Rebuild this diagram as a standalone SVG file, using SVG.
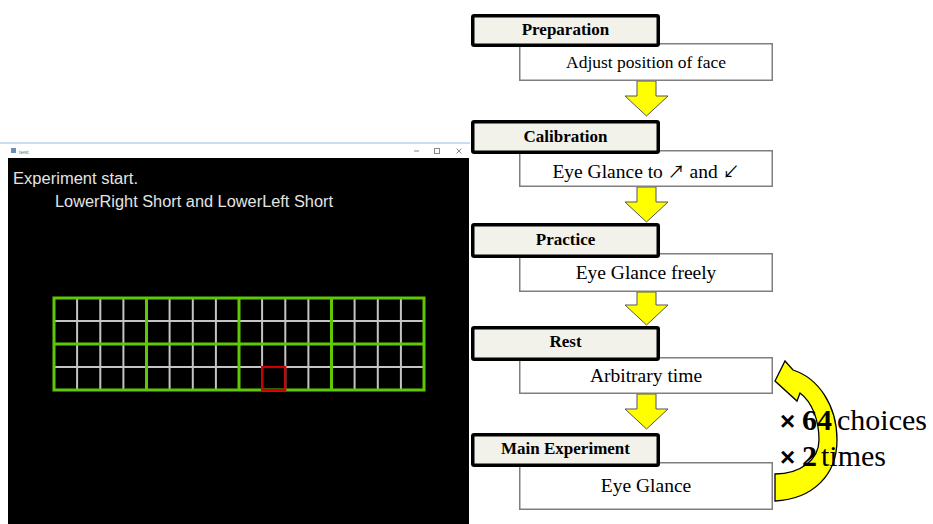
<svg xmlns="http://www.w3.org/2000/svg" width="933" height="524" viewBox="0 0 933 524">
<style>
.hdr rect{fill:#f3f2ea;stroke:#000;stroke-width:3.5}
.hdr text{font-family:"Liberation Serif",serif;font-weight:bold;font-size:17px;text-anchor:middle;fill:#000}
.body rect{fill:#fff;stroke:#7f7f7f;stroke-width:1.5}
.body text{font-family:"Liberation Serif",serif;font-size:19.5px;text-anchor:middle;fill:#000}
.arr{fill:#ffff00;stroke:#555;stroke-width:1}
.gl{stroke:#c4c4c4;stroke-width:2}
.gg{stroke:#5fc800;stroke-width:3;fill:none}
.scr{font-family:"Liberation Sans",sans-serif;fill:#e4e4e4;font-size:16px}
.big{font-family:"Liberation Serif",serif;font-size:30px;fill:#000}
.ar{font-family:"Noto Sans CJK JP","DejaVu Sans",sans-serif;font-size:17px}
</style>
<rect width="933" height="524" fill="#fff"/>
<g id="screenshot">
<line x1="0" y1="143" x2="470" y2="143" stroke="#b9d1ea" stroke-width="1.5"/>
<rect x="8" y="144" width="461" height="380" fill="#000"/>
<rect x="8" y="144" width="461" height="14" fill="#fff"/>
<rect x="11" y="148" width="5" height="5" fill="#6b8fb5"/>
<text x="19" y="153.5" font-family="Liberation Sans,sans-serif" font-size="6" fill="#777">test</text>
<line x1="414" y1="151" x2="419" y2="151" stroke="#888" stroke-width="1"/>
<rect x="434.5" y="148.5" width="5" height="5" fill="none" stroke="#888" stroke-width="1"/>
<path d="M456.5 148.5l5 5M461.5 148.5l-5 5" stroke="#888" stroke-width="1"/>
<text class="scr" x="13" y="184" textLength="125" lengthAdjust="spacingAndGlyphs">Experiment start.</text>
<text class="scr" x="55" y="207" textLength="278" lengthAdjust="spacingAndGlyphs">LowerRight Short and LowerLeft Short</text>
<g id="grid">
<path class="gl" d="M77.1 298V390M100.3 298V390M123.4 298V390M169.6 298V390M192.8 298V390M215.9 298V390M262.1 298V390M285.3 298V390M308.4 298V390M354.6 298V390M377.8 298V390M400.9 298V390M54 321H424M54 367H424"/>
<path class="gg" d="M54 298H424V390H54ZM146.5 298V390M239 298V390M331.5 298V390M54 344H424"/>
<rect x="262.1" y="367" width="23.1" height="23" fill="none" stroke="#cc0000" stroke-width="2.2"/>
</g>
</g>
<g id="connectors">
<polygon class="arr" points="637,81 656,81 656,96 668,96 646.5,116 625,96 637,96"/>
<polygon class="arr" points="637,187 656,187 656,202 668,202 646.5,222 625,202 637,202"/>
<polygon class="arr" points="637,292 656,292 656,305 668,305 646.5,325 625,305 637,305"/>
<polygon class="arr" points="637,394 656,394 656,409 668,409 646.5,429 625,409 637,409"/>
<path id="loop" fill="#ffff00" stroke="#000" stroke-width="1.3" d="M775 501C813 499 837 475 837 440C837 405 818 378 793 370L785 361L775 381L797 401L800 393C812 402 819 420 819 440C819 460 800 474 775 474Z"/>
</g>
<g id="prep-body" class="body"><rect x="519.75" y="43.75" width="252.5" height="36.5"/><text x="646" y="68" style="font-size:17.5px">Adjust position of face</text></g>
<g id="prep" class="hdr"><rect x="472.75" y="15.75" width="185.5" height="29.5" rx="1.5"/><text x="565.5" y="35">Preparation</text></g>
<g id="calib-body" class="body"><rect x="519.75" y="150.75" width="252.5" height="35.5"/><text x="646" y="178">Eye Glance to <tspan class="ar">↗</tspan> and <tspan class="ar">↙</tspan></text></g>
<g id="calib" class="hdr"><rect x="472.75" y="121.75" width="185.5" height="30.5" rx="1.5"/><text x="565.5" y="142">Calibration</text></g>
<g id="practice-body" class="body"><rect x="519.75" y="253.75" width="252.5" height="37.5"/><text x="646" y="279">Eye Glance freely</text></g>
<g id="practice" class="hdr"><rect x="472.75" y="224.75" width="185.5" height="31.5" rx="1.5"/><text x="565.5" y="245">Practice</text></g>
<g id="rest-body" class="body"><rect x="519.75" y="357.75" width="252.5" height="35.5"/><text x="646" y="382">Arbitrary time</text></g>
<g id="rest" class="hdr"><rect x="472.75" y="327.75" width="185.5" height="31.5" rx="1.5"/><text x="565.5" y="347">Rest</text></g>
<g id="main-body" class="body"><rect x="519.75" y="462.75" width="252.5" height="46.5"/><text x="646" y="492">Eye Glance</text></g>
<g id="main" class="hdr"><rect x="472.75" y="434.75" width="185.5" height="30.5" rx="1.5"/><text x="565.5" y="454">Main Experiment</text></g>
<g id="repeat-label">
<text class="big" y="430"><tspan x="780" font-family="Liberation Sans,sans-serif" font-weight="bold" font-size="26">×</tspan><tspan x="802" font-weight="bold">64</tspan><tspan x="837">choices</tspan></text>
<text class="big" y="466"><tspan x="780" font-family="Liberation Sans,sans-serif" font-weight="bold" font-size="26">×</tspan><tspan x="802" font-weight="bold">2</tspan><tspan x="821">times</tspan></text>
</g>
</svg>
